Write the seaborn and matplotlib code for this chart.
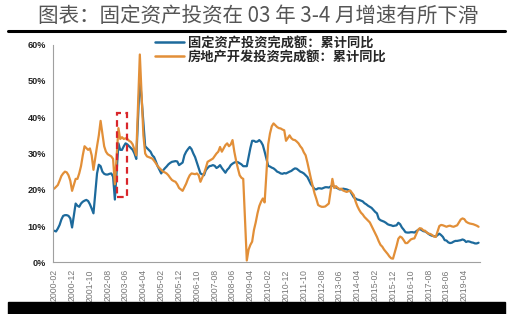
import matplotlib
matplotlib.use("Agg")
import matplotlib.pyplot as plt
import seaborn as sns
import pandas as pd
from matplotlib.patches import Rectangle
from matplotlib.lines import Line2D
from matplotlib.ticker import FuncFormatter

# ---- data: cumulative YoY (%), Feb..Dec of each year (January not published) ----
years = list(range(2000, 2020))
months = list(range(2, 13))

fai_yoy = [
    8.7, 8.5, 9.3, 10.3, 11.8, 12.8, 13.0, 13.0, 12.8, 12.1, 9.6,      # 2000
    16.2, 15.6, 15.3, 16.2, 16.7, 17.0, 17.2, 16.9, 16.0, 14.8, 13.5,  # 2001
    24.5, 26.9, 26.5, 25.0, 24.4, 24.2, 24.2, 24.4, 24.5, 23.6, 17.3,  # 2002
    32.8, 31.0, 31.0, 32.0, 32.8, 32.5, 32.0, 31.5, 31.0, 30.0, 28.5,  # 2003
    51.0, 45.0, 38.5, 32.0, 31.5, 31.0, 30.5, 29.5, 29.0, 27.8, 26.5,  # 2004
    24.5, 25.3, 25.9, 26.4, 27.0, 27.4, 27.7, 27.8, 27.9, 27.8, 26.8,  # 2005
    27.5, 29.5, 30.5, 31.2, 31.8, 31.2, 30.0, 29.0, 27.5, 26.0, 24.5,  # 2006
    24.0, 25.4, 26.0, 26.5, 26.6, 26.8, 26.6, 26.0, 26.3, 26.8, 26.0,  # 2007
    24.7, 25.5, 26.0, 26.8, 27.2, 27.5, 27.7, 27.6, 27.3, 27.0, 26.5,  # 2008
    26.5, 29.0, 31.5, 33.5, 33.5, 33.2, 33.3, 33.7, 33.2, 32.3, 30.5,  # 2009
    26.6, 26.4, 26.1, 25.9, 25.5, 25.0, 24.8, 24.5, 24.4, 24.6, 24.5,  # 2010
    25.0, 25.2, 25.6, 25.9, 25.8, 25.4, 25.0, 24.8, 24.5, 24.0, 23.5,  # 2011
    21.5, 20.9, 20.2, 20.1, 20.4, 20.4, 20.3, 20.5, 20.7, 20.7, 20.6,  # 2012
    21.2, 20.9, 20.6, 20.4, 20.1, 20.1, 20.3, 20.2, 20.1, 19.9, 19.6,  # 2013
    17.9, 17.6, 17.3, 17.2, 17.0, 16.8, 16.3, 16.0, 15.6, 15.3, 15.0,  # 2014
    13.9, 13.5, 12.0, 11.6, 11.4, 11.2, 10.9, 10.5, 10.3, 10.2, 10.0,  # 2015
    10.2, 10.9, 10.5, 9.6, 9.0, 8.3, 8.2, 8.2, 8.3, 8.3, 8.2,          # 2016
    8.9, 9.2, 8.9, 8.6, 8.5, 8.2, 7.8, 7.5, 7.3, 7.2, 7.1,             # 2017
    7.9, 7.5, 7.0, 6.1, 6.0, 5.5, 5.3, 5.4, 5.7, 5.9, 5.9,             # 2018
    6.1, 6.3, 6.1, 5.6, 5.8, 5.7, 5.5, 5.4, 5.2, 5.2, 5.4,             # 2019
]

re_yoy = [
    20.3, 20.8, 21.3, 22.5, 23.8, 24.5, 25.0, 24.8, 24.0, 22.5, 19.7,  # 2000
    23.0, 23.0, 24.5, 26.5, 29.5, 32.0, 31.5, 31.0, 31.4, 29.5, 25.5,  # 2001
    32.0, 35.0, 39.0, 35.5, 32.0, 30.5, 29.8, 29.5, 29.2, 28.5, 21.5,  # 2002
    37.0, 34.0, 34.5, 34.0, 34.2, 34.0, 33.5, 33.2, 32.5, 31.0, 29.5,  # 2003
    57.3, 46.0, 35.0, 30.0, 29.2, 29.0, 28.8, 28.6, 28.0, 27.3, 26.5,  # 2004
    25.5, 25.0, 24.8, 24.5, 24.0, 23.3, 22.7, 22.4, 22.2, 21.5, 20.5,  # 2005
    19.7, 20.7, 21.7, 23.0, 24.0, 24.5, 24.4, 24.3, 24.5, 24.0, 22.2,  # 2006
    24.5, 26.0, 27.7, 28.0, 28.3, 28.6, 29.3, 30.0, 30.5, 31.8, 30.5,  # 2007
    32.3, 32.8, 32.0, 32.5, 33.7, 30.5, 28.0, 25.9, 24.0, 23.3, 23.0,  # 2008
    0.5, 3.5, 4.8, 5.7, 8.9, 11.0, 13.5, 15.5, 16.7, 17.6, 16.5,       # 2009
    32.5, 35.5, 37.5, 38.3, 37.8, 37.3, 37.0, 36.9, 36.6, 36.4, 33.5,  # 2010
    35.0, 34.2, 33.8, 33.7, 33.3, 32.8, 32.0, 31.4, 30.3, 29.5, 27.5,  # 2011
    23.0, 21.0, 19.0, 17.5, 15.8, 15.5, 15.3, 15.3, 15.4, 15.8, 16.2,  # 2012
    23.0, 20.5, 21.0, 20.5, 20.2, 20.3, 19.8, 19.6, 19.4, 19.6, 19.8,  # 2013
    18.5, 16.8, 15.5, 14.5, 13.7, 13.2, 12.5, 12.0, 11.5, 11.0, 10.0,  # 2014
    8.0, 7.0, 5.8, 4.8, 4.3, 3.5, 2.9, 2.3, 1.6, 1.1, 1.0,             # 2015
    4.5, 6.5, 7.1, 6.8, 6.1, 5.3, 5.3, 5.8, 6.3, 6.5, 6.6,             # 2016
    8.9, 9.4, 9.3, 8.8, 8.7, 8.2, 7.9, 7.8, 7.5, 7.1, 7.0,             # 2017
    10.0, 10.3, 10.2, 10.0, 9.8, 10.0, 10.1, 9.9, 9.8, 10.0, 10.2,     # 2018
    11.8, 12.1, 11.9, 11.2, 10.9, 10.7, 10.6, 10.5, 10.3, 10.1, 9.8,   # 2019
]

series_names = ["固定资产投资完成额：累计同比", "房地产开发投资完成额：累计同比"]
tick_labels = ["2000-02", "2000-12", "2001-10", "2002-08", "2003-06", "2004-04",
               "2005-02", "2005-12", "2006-10", "2007-08", "2008-06", "2009-04",
               "2010-02", "2010-12", "2011-10", "2012-08", "2013-06", "2014-04",
               "2015-02", "2015-12", "2016-10", "2017-08", "2018-06", "2019-04"]
title = "图表：固定资产投资在 03 年 3-4 月增速有所下滑"


def month_pos(y, m):
    return (y - 2000) * 12 + (m - 2)


pos = [month_pos(y, m) for y in years for m in months]
df = pd.concat([
    pd.DataFrame({"t": pos, "v": fai_yoy, "s": series_names[0]}),
    pd.DataFrame({"t": pos, "v": re_yoy, "s": series_names[1]}),
])

sns.set_style("white")
cjk = ["Noto Sans CJK SC", "DejaVu Sans"]
plt.rcParams["font.family"] = cjk

W, H = 516, 314
fig = plt.figure(figsize=(W / 100, H / 100), dpi=100)
ax = fig.add_axes([53 / W, (H - 262.3) / H, (480 - 53) / W, (262.3 - 44.7) / H])

colors = {series_names[0]: "#1d6a9c", series_names[1]: "#e28f38"}
sns.lineplot(data=df, x="t", y="v", hue="s", palette=colors, estimator=None,
             sort=True, linewidth=1.6, ax=ax)

ax.set_xlim(-0.7, 238.8)
ax.set_ylim(0, 60)
ax.set_xlabel("")
ax.set_ylabel("")
ax.set_yticks(range(0, 61, 10))
ax.yaxis.set_major_formatter(FuncFormatter(lambda v, p: f"{int(v)}%"))
tpos = [month_pos(int(l[:4]), int(l[5:])) for l in tick_labels]
ax.set_xticks(tpos)
ax.set_xticklabels(tick_labels, rotation=90, fontsize=6.3, color="#777777",
                   family=["Liberation Sans", "DejaVu Sans"])
for lab in ax.get_yticklabels():
    lab.set_fontsize(6.6)
    lab.set_color("#222222")
    lab.set_family(["Liberation Sans", "DejaVu Sans"])
    lab.set_fontweight("bold")
ax.tick_params(axis="both", direction="out", length=3, width=0.7, color="#999999", pad=2)
for side in ["top", "right"]:
    ax.spines[side].set_visible(False)
for side in ["left", "bottom"]:
    ax.spines[side].set_color("#a0a0a0")
    ax.spines[side].set_linewidth(0.8)

# highlight box around early 2003
ax.add_patch(Rectangle((35.2, 18.1), 5.6, 23.1, fill=False, edgecolor="#d9262b",
                       linestyle=(0, (3, 2)), linewidth=1.6, zorder=5))

handles, labels = ax.get_legend_handles_labels()
leg = ax.legend(handles, labels, loc="upper left", bbox_to_anchor=(155 / W, 1 - 36 / H),
                bbox_transform=fig.transFigure, frameon=False, handlelength=2.2,
                handletextpad=0.3, labelspacing=0.0, borderpad=0, borderaxespad=0,
                prop={"family": cjk, "size": 9.5, "weight": "bold"})
for line in leg.get_lines():
    line.set_linewidth(1.8)

fig.text(0.5, 1 - 16 / H, title, ha="center", va="center", fontsize=14.8,
         color="#555555", family=cjk)
fig.add_artist(Line2D([8 / W, 505 / W], [1 - 31 / H] * 2, color="black", lw=2.2))
fig.add_artist(Rectangle((8 / W, 0), 497 / W, 12 / H, color="black",
                         transform=fig.transFigure))

fig.savefig("out.png", dpi=100)
